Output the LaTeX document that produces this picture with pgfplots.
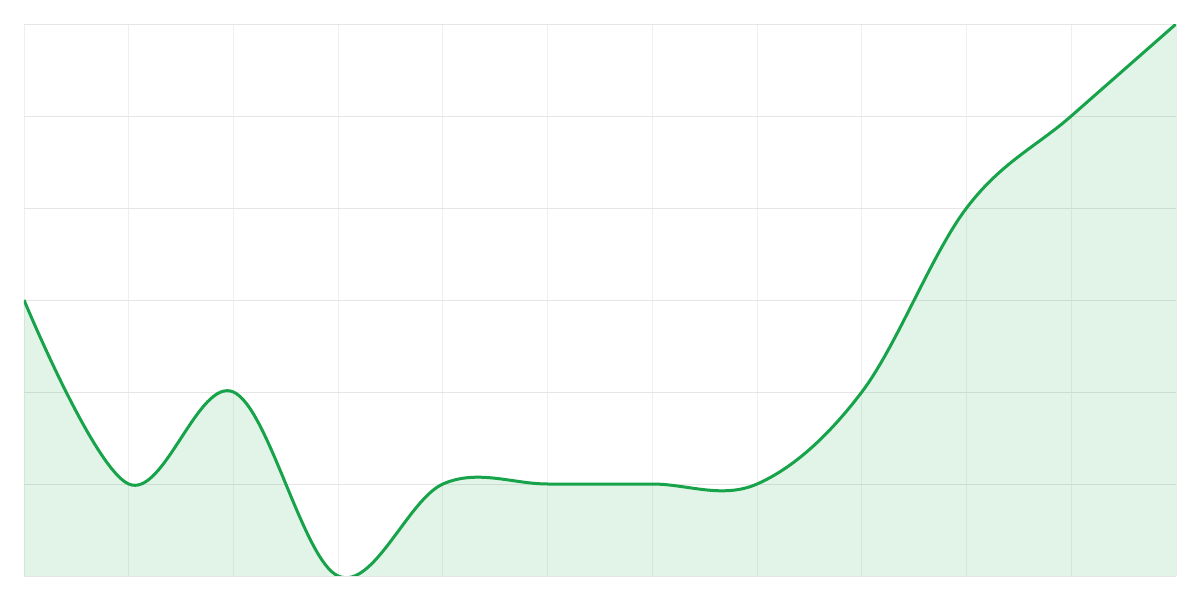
\documentclass[border=0pt]{standalone}
\usepackage{pgfplots}
\pgfplotsset{compat=1.18}
\definecolor{linegreen}{HTML}{16A34A}
\definecolor{hgrid}{HTML}{E5E5E5}
\definecolor{vgrid}{HTML}{EFEFEF}
\begin{document}
\begin{tikzpicture}
\useasboundingbox[fill=white] (-12bp,-12bp) rectangle (588bp,288bp);
\begin{axis}[
    at={(0,0)}, anchor=south west,
    scale only axis,
    width=576bp, height=276bp,
    xmin=0, xmax=11, ymin=0, ymax=6,
    xtick={0,...,11}, ytick={0,...,6},
    xticklabels={}, yticklabels={},
    major tick length=0pt,
    axis line style={draw=none},
    xmajorgrids, ymajorgrids,
    x grid style={vgrid, line width=0.5bp},
    y grid style={hgrid, line width=0.5bp},
]
% area under the line
\addplot[fill=linegreen, fill opacity=0.12, draw=none, smooth, tension=0.6]
  coordinates {(0,3) (1,1) (2,2) (3,0) (4,1) (5,1) (6,1) (7,1) (8,2) (9,4) (10,5) (11,6)} \closedcycle;
% line
\addplot[linegreen, line width=1.5bp, smooth, tension=0.6]
  coordinates {(0,3) (1,1) (2,2) (3,0) (4,1) (5,1) (6,1) (7,1) (8,2) (9,4) (10,5) (11,6)};
\end{axis}
\end{tikzpicture}
\end{document}
